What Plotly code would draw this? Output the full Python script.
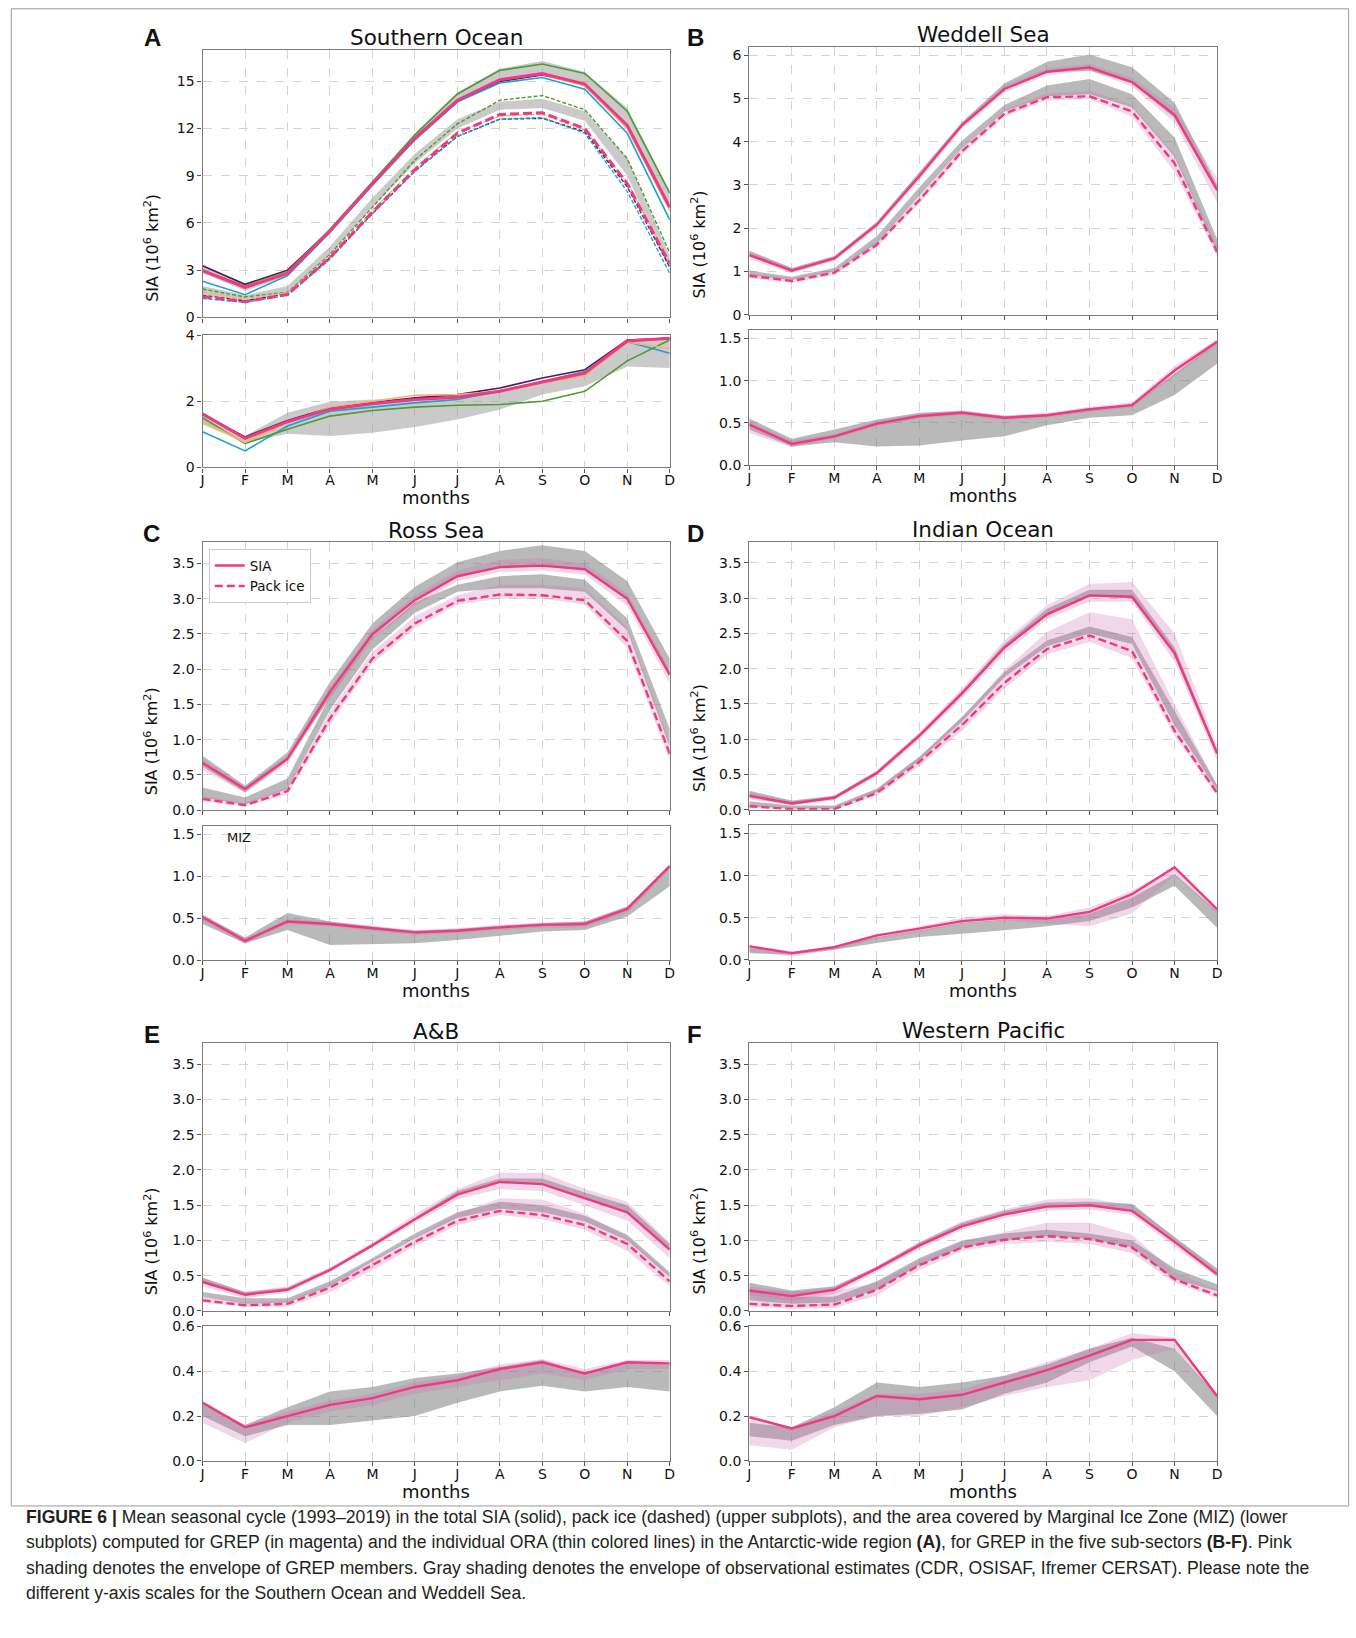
import plotly.graph_objects as go

# ---------------- data ----------------
MONTHS = ["J", "F", "M", "A", "M", "J", "J", "A", "S", "O", "N", "D"]
X = list(range(12))

# Panel A: Southern Ocean (GREP + individual ORA)
SO_SIA_GREP = [2.97, 1.90, 2.80, 5.50, 8.50, 11.40, 13.80, 15.10, 15.50, 14.83, 12.20, 7.00]
SO_SIA_PURPLE = [3.28, 2.10, 3.00, 5.55, 8.50, 11.30, 13.70, 15.00, 15.40, 14.80, 12.20, 7.00]
SO_SIA_BLUE = [2.29, 1.44, 2.65, 5.40, 8.40, 11.30, 13.70, 14.90, 15.25, 14.50, 11.70, 6.20]
SO_SIA_GREEN = [3.00, 2.00, 2.90, 5.60, 8.60, 11.60, 14.20, 15.70, 16.10, 15.50, 13.10, 7.90]
SO_SIA_ORANGE = [2.90, 1.95, 2.85, 5.50, 8.50, 11.40, 13.80, 15.10, 15.45, 14.70, 12.00, 6.80]
SO_SIA_OBS_LO = [2.80, 1.70, 2.60, 5.40, 8.40, 11.30, 13.80, 15.10, 15.40, 14.90, 12.10, 7.00]
SO_SIA_OBS_HI = [3.30, 2.10, 3.00, 5.60, 8.70, 11.70, 14.30, 15.80, 16.30, 15.60, 13.30, 8.00]
SO_PACK_GREP = [1.31, 1.00, 1.45, 3.80, 6.70, 9.40, 11.70, 12.90, 13.00, 12.00, 8.50, 3.40]
SO_PACK_PURPLE = [1.40, 1.05, 1.50, 3.80, 6.60, 9.30, 11.50, 12.60, 12.65, 11.80, 8.30, 3.20]
SO_PACK_BLUE = [1.20, 0.95, 1.40, 3.70, 6.60, 9.30, 11.50, 12.60, 12.70, 11.70, 8.00, 2.80]
SO_PACK_GREEN = [1.80, 1.30, 1.60, 4.00, 7.00, 10.00, 12.30, 13.80, 14.10, 13.20, 10.10, 4.10]
SO_PACK_ORANGE = [1.60, 1.20, 1.55, 3.90, 6.80, 9.50, 11.80, 12.80, 12.90, 11.90, 8.60, 3.50]
SO_PACK_OBS_LO = [1.40, 1.10, 1.50, 4.00, 7.00, 9.80, 12.00, 13.20, 13.30, 12.50, 9.00, 3.00]
SO_PACK_OBS_HI = [2.00, 1.40, 2.00, 4.50, 7.60, 10.40, 12.60, 13.70, 13.90, 13.10, 10.10, 3.90]
SO_MIZ_GREP = [1.62, 0.88, 1.38, 1.76, 1.92, 2.05, 2.12, 2.30, 2.58, 2.85, 3.82, 3.90]
SO_MIZ_PURPLE = [1.60, 0.92, 1.42, 1.80, 1.95, 2.10, 2.20, 2.40, 2.70, 2.95, 3.85, 3.90]
SO_MIZ_BLUE = [1.08, 0.50, 1.25, 1.70, 1.82, 1.95, 2.05, 2.30, 2.60, 2.90, 3.80, 3.45]
SO_MIZ_GREEN = [1.50, 0.72, 1.15, 1.55, 1.72, 1.82, 1.88, 1.90, 2.00, 2.30, 3.22, 3.85]
SO_MIZ_ORANGE = [1.40, 0.75, 1.35, 1.82, 2.00, 2.18, 2.20, 2.30, 2.55, 2.78, 3.78, 3.60]
SO_MIZ_OBS_LO = [1.30, 0.75, 1.02, 0.95, 1.05, 1.22, 1.45, 1.75, 2.20, 2.45, 3.05, 3.00]
SO_MIZ_OBS_HI = [1.60, 0.95, 1.65, 1.98, 2.05, 2.10, 2.20, 2.35, 2.60, 2.90, 3.85, 3.90]

# Panel B: Weddell Sea
WS_SIA = [1.38, 1.02, 1.30, 2.08, 3.20, 4.38, 5.22, 5.62, 5.72, 5.38, 4.62, 2.88]
WS_SIA_OBS_LO = [1.35, 0.98, 1.27, 2.05, 3.20, 4.35, 5.20, 5.60, 5.65, 5.35, 4.55, 2.85]
WS_SIA_OBS_HI = [1.48, 1.08, 1.35, 2.15, 3.30, 4.45, 5.35, 5.85, 6.02, 5.72, 4.90, 3.00]
WS_SIA_ENS_LO = [1.28, 0.95, 1.24, 2.00, 3.12, 4.30, 5.14, 5.55, 5.64, 5.28, 4.45, 2.60]
WS_SIA_ENS_HI = [1.46, 1.08, 1.36, 2.14, 3.28, 4.45, 5.30, 5.70, 5.80, 5.48, 4.78, 3.15]
WS_PACK = [0.90, 0.78, 0.97, 1.62, 2.65, 3.78, 4.65, 5.03, 5.05, 4.70, 3.50, 1.45]
WS_PACK_OBS_LO = [0.92, 0.80, 1.00, 1.65, 2.75, 3.85, 4.70, 5.05, 5.10, 4.80, 3.65, 1.45]
WS_PACK_OBS_HI = [1.02, 0.88, 1.08, 1.82, 2.95, 4.02, 4.85, 5.30, 5.45, 5.10, 4.10, 1.75]
WS_PACK_ENS_LO = [0.84, 0.74, 0.92, 1.56, 2.58, 3.70, 4.58, 4.96, 4.98, 4.58, 3.30, 1.35]
WS_PACK_ENS_HI = [0.96, 0.84, 1.02, 1.70, 2.74, 3.86, 4.74, 5.12, 5.18, 4.85, 3.70, 1.62]
WS_MIZ = [0.48, 0.25, 0.34, 0.49, 0.58, 0.62, 0.56, 0.59, 0.66, 0.71, 1.12, 1.46]
WS_MIZ_OBS_LO = [0.42, 0.22, 0.27, 0.22, 0.23, 0.29, 0.34, 0.47, 0.56, 0.59, 0.83, 1.20]
WS_MIZ_OBS_HI = [0.55, 0.31, 0.42, 0.54, 0.62, 0.64, 0.58, 0.60, 0.67, 0.72, 1.08, 1.46]
WS_MIZ_ENS_LO = [0.38, 0.21, 0.31, 0.46, 0.55, 0.59, 0.53, 0.56, 0.63, 0.68, 1.05, 1.42]
WS_MIZ_ENS_HI = [0.52, 0.29, 0.37, 0.52, 0.61, 0.65, 0.59, 0.62, 0.69, 0.74, 1.17, 1.49]

# Panel C: Ross Sea
RS_SIA = [0.67, 0.30, 0.73, 1.68, 2.50, 2.98, 3.32, 3.45, 3.47, 3.42, 3.00, 1.92]
RS_SIA_OBS_LO = [0.62, 0.25, 0.70, 1.60, 2.45, 2.98, 3.32, 3.45, 3.47, 3.42, 3.00, 1.92]
RS_SIA_OBS_HI = [0.77, 0.35, 0.82, 1.82, 2.65, 3.17, 3.52, 3.68, 3.76, 3.68, 3.25, 2.15]
RS_SIA_ENS_LO = [0.57, 0.25, 0.66, 1.60, 2.42, 2.90, 3.25, 3.38, 3.40, 3.34, 2.90, 1.80]
RS_SIA_ENS_HI = [0.73, 0.33, 0.78, 1.74, 2.56, 3.05, 3.40, 3.55, 3.58, 3.50, 3.08, 2.00]
RS_PACK = [0.16, 0.07, 0.27, 1.30, 2.15, 2.65, 2.97, 3.06, 3.05, 2.98, 2.40, 0.80]
RS_PACK_OBS_LO = [0.18, 0.08, 0.30, 1.42, 2.28, 2.80, 3.10, 3.15, 3.15, 3.10, 2.55, 0.90]
RS_PACK_OBS_HI = [0.32, 0.18, 0.45, 1.62, 2.45, 2.95, 3.20, 3.32, 3.35, 3.27, 2.72, 1.15]
RS_PACK_ENS_LO = [0.12, 0.05, 0.22, 1.22, 2.08, 2.58, 2.92, 3.00, 3.00, 2.92, 2.30, 0.70]
RS_PACK_ENS_HI = [0.20, 0.10, 0.32, 1.40, 2.25, 2.75, 3.05, 3.20, 3.20, 3.15, 2.60, 0.95]
RS_MIZ = [0.51, 0.23, 0.46, 0.43, 0.38, 0.33, 0.35, 0.39, 0.42, 0.43, 0.61, 1.12]
RS_MIZ_OBS_LO = [0.43, 0.20, 0.36, 0.18, 0.19, 0.20, 0.24, 0.29, 0.34, 0.36, 0.52, 0.88]
RS_MIZ_OBS_HI = [0.54, 0.27, 0.56, 0.46, 0.40, 0.35, 0.37, 0.41, 0.44, 0.46, 0.64, 1.12]
RS_MIZ_ENS_LO = [0.47, 0.19, 0.43, 0.40, 0.35, 0.30, 0.32, 0.36, 0.39, 0.39, 0.56, 1.08]
RS_MIZ_ENS_HI = [0.54, 0.26, 0.49, 0.46, 0.41, 0.36, 0.38, 0.42, 0.45, 0.46, 0.64, 1.15]

# Panel D: Indian Ocean
IO_SIA = [0.20, 0.09, 0.17, 0.52, 1.05, 1.65, 2.30, 2.77, 3.04, 3.02, 2.22, 0.80]
IO_SIA_OBS_LO = [0.17, 0.07, 0.16, 0.50, 1.03, 1.62, 2.28, 2.75, 3.02, 3.00, 2.20, 0.78]
IO_SIA_OBS_HI = [0.27, 0.13, 0.20, 0.55, 1.08, 1.68, 2.35, 2.85, 3.12, 3.12, 2.30, 0.85]
IO_SIA_ENS_LO = [0.15, 0.06, 0.14, 0.48, 1.00, 1.58, 2.22, 2.70, 2.95, 2.95, 2.10, 0.70]
IO_SIA_ENS_HI = [0.25, 0.12, 0.20, 0.56, 1.10, 1.72, 2.40, 2.90, 3.20, 3.23, 2.50, 0.90]
IO_PACK = [0.05, 0.01, 0.01, 0.24, 0.68, 1.20, 1.80, 2.28, 2.47, 2.25, 1.12, 0.24]
IO_PACK_OBS_LO = [0.05, 0.02, 0.02, 0.25, 0.70, 1.25, 1.88, 2.32, 2.50, 2.35, 1.20, 0.28]
IO_PACK_OBS_HI = [0.12, 0.06, 0.06, 0.30, 0.75, 1.32, 1.95, 2.40, 2.60, 2.45, 1.40, 0.35]
IO_PACK_ENS_LO = [0.03, 0.00, 0.00, 0.20, 0.62, 1.12, 1.72, 2.20, 2.38, 2.15, 1.05, 0.20]
IO_PACK_ENS_HI = [0.08, 0.04, 0.04, 0.30, 0.76, 1.30, 1.98, 2.52, 2.80, 2.70, 1.50, 0.35]
IO_MIZ = [0.16, 0.08, 0.15, 0.29, 0.37, 0.46, 0.50, 0.49, 0.57, 0.78, 1.10, 0.60]
IO_MIZ_OBS_LO = [0.08, 0.06, 0.12, 0.20, 0.27, 0.31, 0.35, 0.40, 0.46, 0.62, 0.88, 0.38]
IO_MIZ_OBS_HI = [0.14, 0.09, 0.16, 0.27, 0.35, 0.44, 0.48, 0.48, 0.55, 0.74, 1.02, 0.58]
IO_MIZ_ENS_LO = [0.10, 0.04, 0.12, 0.25, 0.33, 0.43, 0.47, 0.43, 0.40, 0.55, 1.00, 0.55]
IO_MIZ_ENS_HI = [0.18, 0.10, 0.17, 0.30, 0.40, 0.50, 0.54, 0.52, 0.62, 0.82, 1.10, 0.62]

# Panel E: A&B
AB_SIA = [0.41, 0.23, 0.30, 0.58, 0.93, 1.30, 1.65, 1.83, 1.80, 1.60, 1.40, 0.87]
AB_SIA_OBS_LO = [0.40, 0.22, 0.30, 0.57, 0.92, 1.30, 1.65, 1.83, 1.80, 1.60, 1.40, 0.87]
AB_SIA_OBS_HI = [0.47, 0.27, 0.33, 0.60, 0.95, 1.33, 1.70, 1.88, 1.88, 1.68, 1.50, 0.95]
AB_SIA_ENS_LO = [0.35, 0.18, 0.26, 0.55, 0.90, 1.25, 1.58, 1.73, 1.70, 1.50, 1.28, 0.75]
AB_SIA_ENS_HI = [0.47, 0.27, 0.35, 0.62, 0.97, 1.37, 1.73, 1.96, 1.96, 1.73, 1.55, 0.97]
AB_PACK = [0.15, 0.08, 0.10, 0.33, 0.65, 0.98, 1.28, 1.42, 1.36, 1.22, 0.95, 0.42]
AB_PACK_OBS_LO = [0.20, 0.10, 0.12, 0.35, 0.70, 1.03, 1.32, 1.45, 1.40, 1.27, 1.00, 0.48]
AB_PACK_OBS_HI = [0.27, 0.18, 0.18, 0.42, 0.75, 1.10, 1.40, 1.55, 1.50, 1.35, 1.08, 0.55]
AB_PACK_ENS_LO = [0.12, 0.06, 0.06, 0.26, 0.58, 0.92, 1.22, 1.36, 1.30, 1.15, 0.85, 0.35]
AB_PACK_ENS_HI = [0.20, 0.12, 0.14, 0.38, 0.72, 1.05, 1.38, 1.60, 1.58, 1.38, 1.05, 0.52]
AB_MIZ = [0.26, 0.15, 0.20, 0.25, 0.28, 0.33, 0.36, 0.41, 0.44, 0.39, 0.44, 0.435]
AB_MIZ_OBS_LO = [0.20, 0.11, 0.16, 0.16, 0.18, 0.20, 0.26, 0.31, 0.335, 0.31, 0.33, 0.31]
AB_MIZ_OBS_HI = [0.26, 0.16, 0.24, 0.31, 0.33, 0.37, 0.39, 0.42, 0.45, 0.39, 0.44, 0.43]
AB_MIZ_ENS_LO = [0.17, 0.08, 0.17, 0.22, 0.25, 0.30, 0.33, 0.36, 0.39, 0.36, 0.41, 0.41]
AB_MIZ_ENS_HI = [0.26, 0.16, 0.22, 0.27, 0.30, 0.35, 0.38, 0.43, 0.455, 0.41, 0.45, 0.45]

# Panel F: Western Pacific
WP_SIA = [0.29, 0.21, 0.30, 0.60, 0.93, 1.20, 1.37, 1.48, 1.50, 1.42, 0.98, 0.52]
WP_SIA_OBS_LO = [0.30, 0.22, 0.30, 0.60, 0.93, 1.20, 1.37, 1.48, 1.50, 1.42, 0.98, 0.52]
WP_SIA_OBS_HI = [0.40, 0.29, 0.35, 0.63, 0.97, 1.25, 1.42, 1.54, 1.55, 1.52, 1.05, 0.60]
WP_SIA_ENS_LO = [0.22, 0.14, 0.24, 0.55, 0.88, 1.15, 1.32, 1.42, 1.44, 1.36, 0.92, 0.47]
WP_SIA_ENS_HI = [0.35, 0.27, 0.34, 0.63, 0.98, 1.27, 1.44, 1.58, 1.60, 1.50, 1.04, 0.58]
WP_PACK = [0.10, 0.07, 0.09, 0.30, 0.65, 0.90, 1.01, 1.06, 1.02, 0.90, 0.45, 0.22]
WP_PACK_OBS_LO = [0.15, 0.10, 0.12, 0.30, 0.65, 0.90, 1.00, 1.06, 1.02, 0.90, 0.45, 0.28]
WP_PACK_OBS_HI = [0.30, 0.20, 0.20, 0.42, 0.75, 1.00, 1.10, 1.15, 1.10, 1.00, 0.60, 0.38]
WP_PACK_ENS_LO = [0.06, 0.03, 0.04, 0.22, 0.58, 0.85, 0.95, 0.98, 0.95, 0.82, 0.40, 0.18]
WP_PACK_ENS_HI = [0.30, 0.28, 0.28, 0.40, 0.72, 0.98, 1.12, 1.25, 1.25, 1.08, 0.55, 0.30]
WP_MIZ = [0.195, 0.145, 0.20, 0.29, 0.275, 0.295, 0.35, 0.405, 0.47, 0.54, 0.54, 0.29]
WP_MIZ_OBS_LO = [0.11, 0.09, 0.16, 0.20, 0.21, 0.23, 0.30, 0.35, 0.44, 0.51, 0.40, 0.20]
WP_MIZ_OBS_HI = [0.17, 0.15, 0.24, 0.35, 0.33, 0.35, 0.38, 0.43, 0.50, 0.55, 0.50, 0.29]
WP_MIZ_ENS_LO = [0.07, 0.05, 0.15, 0.20, 0.20, 0.24, 0.29, 0.33, 0.36, 0.45, 0.50, 0.28]
WP_MIZ_ENS_HI = [0.20, 0.15, 0.22, 0.30, 0.30, 0.32, 0.38, 0.44, 0.50, 0.57, 0.55, 0.30]

TITLES = ["Southern Ocean", "Weddell Sea", "Ross Sea", "Indian Ocean", "A&B", "Western Pacific"]
LETTERS = ["A", "B", "C", "D", "E", "F"]

# ---------------- styling ----------------
W, H = 1356, 1638
# empirical page -> picture mapping correction
AX, BX = 2.2, 0.9942
AY, BY = 7.4, 0.9900
MAG = "#ee3a7f"
GRAY_FILL = "rgba(120,120,120,0.52)"
PINK_FILL = "rgba(200,110,175,0.28)"
C_PURPLE = "#4e1a5c"
C_BLUE = "#1ea0dc"
C_GREEN = "#4f9a32"
C_ORANGE = "#f2b36e"
TICKFONT = dict(family="DejaVu Sans", size=14, color="#111")


def px(x):
    return ((x - AX) / BX) / W


def py(y):
    return 1 - ((y - AY) / BY) / H


def ax_names(i):
    return ("x" if i == 1 else f"x{i}"), ("y" if i == 1 else f"y{i}")


fig = go.Figure()
layout_axes = {}

LEFT = (201.8, 669.0)
RIGHT = (748.6, 1216.4)
# (index, xspan, ypix top, ypix bottom, yrange, dtick, fmt, xlabels)
AXES = [
    (1, LEFT, 49.3, 316.7, [0, 17], 3, "d", False),
    (2, LEFT, 334.0, 466.7, [0, 4.01], 2, "d", True),
    (3, RIGHT, 46.0, 314.0, [0, 6.2], 1, "d", False),
    (4, RIGHT, 329.3, 464.3, [0, 1.6], 0.5, ".1f", True),
    (5, LEFT, 541.7, 809.3, [0, 3.8], 0.5, ".1f", False),
    (6, LEFT, 825.0, 959.3, [0, 1.6], 0.5, ".1f", True),
    (7, RIGHT, 541.0, 809.0, [0, 3.8], 0.5, ".1f", False),
    (8, RIGHT, 824.3, 959.0, [0, 1.6], 0.5, ".1f", True),
    (9, LEFT, 1042.3, 1310.0, [0, 3.8], 0.5, ".1f", False),
    (10, LEFT, 1325.3, 1460.0, [0, 0.601], 0.2, ".1f", True),
    (11, RIGHT, 1042.3, 1310.0, [0, 3.8], 0.5, ".1f", False),
    (12, RIGHT, 1325.3, 1460.0, [0, 0.601], 0.2, ".1f", True),
]

for idx, (x0, x1), ytop, ybot, yr, dt, fmt, xl in AXES:
    xn, yn = ax_names(idx)
    common = dict(showline=True, mirror=True, linecolor="#7a7a7a", linewidth=1.3,
                  ticks="outside", ticklen=4, tickwidth=1, tickcolor="#555",
                  showgrid=True, gridcolor="#d4d4d4", gridwidth=0.8, griddash="dash",
                  zeroline=False, tickfont=TICKFONT, fixedrange=True)
    layout_axes["xaxis" if idx == 1 else f"xaxis{idx}"] = dict(
        domain=[px(x0), px(x1)], range=[0, 11], anchor=yn,
        tickmode="array", tickvals=X, ticktext=MONTHS, showticklabels=xl,
        ticklabelstandoff=-4, **common)
    layout_axes["yaxis" if idx == 1 else f"yaxis{idx}"] = dict(
        domain=[py(ybot), py(ytop)], range=yr, anchor=xn,
        tick0=0, dtick=dt, tickformat=fmt, **common)


def band(idx, lo, hi, color):
    xn, yn = ax_names(idx)
    fig.add_trace(go.Scatter(x=X + X[::-1], y=hi + lo[::-1], fill="toself", fillcolor=color,
                             mode="lines", line=dict(width=0), hoverinfo="skip",
                             showlegend=False, xaxis=xn, yaxis=yn))


def line(idx, vals, color, width, dash="solid", name=None, legend=False):
    xn, yn = ax_names(idx)
    fig.add_trace(go.Scatter(x=X, y=vals, mode="lines", line=dict(color=color, width=width, dash=dash),
                             name=name, showlegend=legend, xaxis=xn, yaxis=yn))


# Panel A
band(1, SO_SIA_OBS_LO, SO_SIA_OBS_HI, "rgba(150,150,150,0.5)")
band(1, SO_PACK_OBS_LO, SO_PACK_OBS_HI, "rgba(150,150,150,0.5)")
for vals, col in [(SO_SIA_PURPLE, C_PURPLE), (SO_SIA_BLUE, C_BLUE), (SO_SIA_GREEN, C_GREEN), (SO_SIA_ORANGE, C_ORANGE)]:
    line(1, vals, col, 1.6)
for vals, col in [(SO_PACK_PURPLE, C_PURPLE), (SO_PACK_BLUE, C_BLUE), (SO_PACK_GREEN, C_GREEN), (SO_PACK_ORANGE, C_ORANGE)]:
    line(1, vals, col, 1.4, "4px,2px")
line(1, SO_SIA_GREP, MAG, 3)
line(1, SO_PACK_GREP, MAG, 3, "9px,4px")
band(2, SO_MIZ_OBS_LO, SO_MIZ_OBS_HI, "rgba(150,150,150,0.5)")
for vals, col in [(SO_MIZ_PURPLE, C_PURPLE), (SO_MIZ_BLUE, C_BLUE), (SO_MIZ_GREEN, C_GREEN), (SO_MIZ_ORANGE, C_ORANGE)]:
    line(2, vals, col, 1.6)
line(2, SO_MIZ_GREP, MAG, 3)

REGIONS = [
    (3, 4, WS_SIA, WS_SIA_OBS_LO, WS_SIA_OBS_HI, WS_SIA_ENS_LO, WS_SIA_ENS_HI,
     WS_PACK, WS_PACK_OBS_LO, WS_PACK_OBS_HI, WS_PACK_ENS_LO, WS_PACK_ENS_HI,
     WS_MIZ, WS_MIZ_OBS_LO, WS_MIZ_OBS_HI, WS_MIZ_ENS_LO, WS_MIZ_ENS_HI),
    (5, 6, RS_SIA, RS_SIA_OBS_LO, RS_SIA_OBS_HI, RS_SIA_ENS_LO, RS_SIA_ENS_HI,
     RS_PACK, RS_PACK_OBS_LO, RS_PACK_OBS_HI, RS_PACK_ENS_LO, RS_PACK_ENS_HI,
     RS_MIZ, RS_MIZ_OBS_LO, RS_MIZ_OBS_HI, RS_MIZ_ENS_LO, RS_MIZ_ENS_HI),
    (7, 8, IO_SIA, IO_SIA_OBS_LO, IO_SIA_OBS_HI, IO_SIA_ENS_LO, IO_SIA_ENS_HI,
     IO_PACK, IO_PACK_OBS_LO, IO_PACK_OBS_HI, IO_PACK_ENS_LO, IO_PACK_ENS_HI,
     IO_MIZ, IO_MIZ_OBS_LO, IO_MIZ_OBS_HI, IO_MIZ_ENS_LO, IO_MIZ_ENS_HI),
    (9, 10, AB_SIA, AB_SIA_OBS_LO, AB_SIA_OBS_HI, AB_SIA_ENS_LO, AB_SIA_ENS_HI,
     AB_PACK, AB_PACK_OBS_LO, AB_PACK_OBS_HI, AB_PACK_ENS_LO, AB_PACK_ENS_HI,
     AB_MIZ, AB_MIZ_OBS_LO, AB_MIZ_OBS_HI, AB_MIZ_ENS_LO, AB_MIZ_ENS_HI),
    (11, 12, WP_SIA, WP_SIA_OBS_LO, WP_SIA_OBS_HI, WP_SIA_ENS_LO, WP_SIA_ENS_HI,
     WP_PACK, WP_PACK_OBS_LO, WP_PACK_OBS_HI, WP_PACK_ENS_LO, WP_PACK_ENS_HI,
     WP_MIZ, WP_MIZ_OBS_LO, WP_MIZ_OBS_HI, WP_MIZ_ENS_LO, WP_MIZ_ENS_HI),
]

for (it, ib, sia, slo, shi, selo, sehi, pk, plo, phi, pelo, pehi, mz, mlo, mhi, melo, mehi) in REGIONS:
    band(it, slo, shi, GRAY_FILL)
    band(it, plo, phi, GRAY_FILL)
    band(it, selo, sehi, PINK_FILL)
    band(it, pelo, pehi, PINK_FILL)
    leg = (it == 5)
    line(it, sia, MAG, 2.4, "solid", "SIA", leg)
    line(it, pk, MAG, 2.4, "8px,4px", "Pack ice", leg)
    band(ib, mlo, mhi, GRAY_FILL)
    band(ib, melo, mehi, PINK_FILL)
    line(ib, mz, MAG, 2.4)

# ---------------- annotations ----------------
ann = []
TITLE_POS = [(435.4, 36.7), (982.5, 34.0), (435.4, 529.3), (982.5, 528.3), (435.4, 1030.7), (982.5, 1030.0)]
LETTER_POS = [(152, 36.7), (695, 36.7), (151, 533), (695, 533), (151, 1034), (694, 1034)]
YLAB_POS = [(150.7, 246.7), (698, 244), (150.7, 740), (698, 737.5), (150.7, 1240), (698, 1240)]
MONTHS_POS = [(435.4, 497), (982.5, 495), (435.4, 990), (982.5, 990), (435.4, 1491), (982.5, 1491)]

for i in range(6):
    tx, ty = TITLE_POS[i]
    ann.append(dict(x=px(tx), y=py(ty), xref="paper", yref="paper", text=TITLES[i], showarrow=False,
                    xanchor="center", yanchor="middle", font=dict(family="DejaVu Sans", size=21.5, color="#111")))
    lx, ly = LETTER_POS[i]
    ann.append(dict(x=px(lx), y=py(ly), xref="paper", yref="paper", text=f"<b>{LETTERS[i]}</b>", showarrow=False,
                    xanchor="center", yanchor="middle", font=dict(family="Liberation Sans", size=24, color="#111")))
    yx, yy = YLAB_POS[i]
    ann.append(dict(x=px(yx), y=py(yy), xref="paper", yref="paper", text="SIA (10<sup>6</sup> km<sup>2</sup>)",
                    showarrow=False, textangle=-90, xanchor="center", yanchor="middle",
                    font=dict(family="DejaVu Sans", size=16, color="#111")))
    mx, my = MONTHS_POS[i]
    ann.append(dict(x=px(mx), y=py(my), xref="paper", yref="paper", text="months", showarrow=False,
                    xanchor="center", yanchor="middle", font=dict(family="DejaVu Sans", size=18, color="#111")))

ann.append(dict(x=px(224), y=py(837), xref="paper", yref="paper", text="MIZ", showarrow=False,
                xanchor="left", yanchor="middle", font=dict(family="DejaVu Sans", size=13, color="#111")))

CAPTION = [
    "<b>FIGURE 6 |</b> Mean seasonal cycle (1993–2019) in the total SIA (solid), pack ice (dashed) (upper subplots), and the area covered by Marginal Ice Zone (MIZ) (lower",
    "subplots) computed for GREP (in magenta) and the individual ORA (thin colored lines) in the Antarctic-wide region <b>(A)</b>, for GREP in the five sub-sectors <b>(B-F)</b>. Pink",
    "shading denotes the envelope of GREP members. Gray shading denotes the envelope of observational estimates (CDR, OSISAF, Ifremer CERSAT). Please note the",
    "different y-axis scales for the Southern Ocean and Weddell Sea.",
]
CAP_Y = [1516, 1541.5, 1567, 1592.5]
for t, yy in zip(CAPTION, CAP_Y):
    ann.append(dict(x=px(23), y=py(yy), xref="paper", yref="paper", text=t, showarrow=False,
                    xanchor="left", yanchor="middle", font=dict(family="Liberation Sans", size=17.6, color="#231f20")))

FRAME = dict(color="#9a9a9a", width=1)
shapes = [
    dict(type="rect", xref="paper", yref="paper", x0=px(10.5), x1=px(1348), y0=py(1505), y1=1 - 0.8 / H,
         line=FRAME, fillcolor="rgba(0,0,0,0)", layer="below"),
]

fig.update_layout(
    width=W, height=H, margin=dict(l=0, r=0, t=0, b=0),
    paper_bgcolor="white", plot_bgcolor="white",
    annotations=ann, shapes=shapes,
    showlegend=True,
    legend=dict(x=px(208), y=py(548.5), xanchor="left", yanchor="top",
                bgcolor="white", bordercolor="#cccccc", borderwidth=1,
                font=dict(family="DejaVu Sans", size=13.5, color="#111"), itemwidth=30,
                tracegroupgap=0),
    **layout_axes,
)

fig.write_html("out.html", config={"displayModeBar": False},
               post_script="document.body.style.margin='0px';")
